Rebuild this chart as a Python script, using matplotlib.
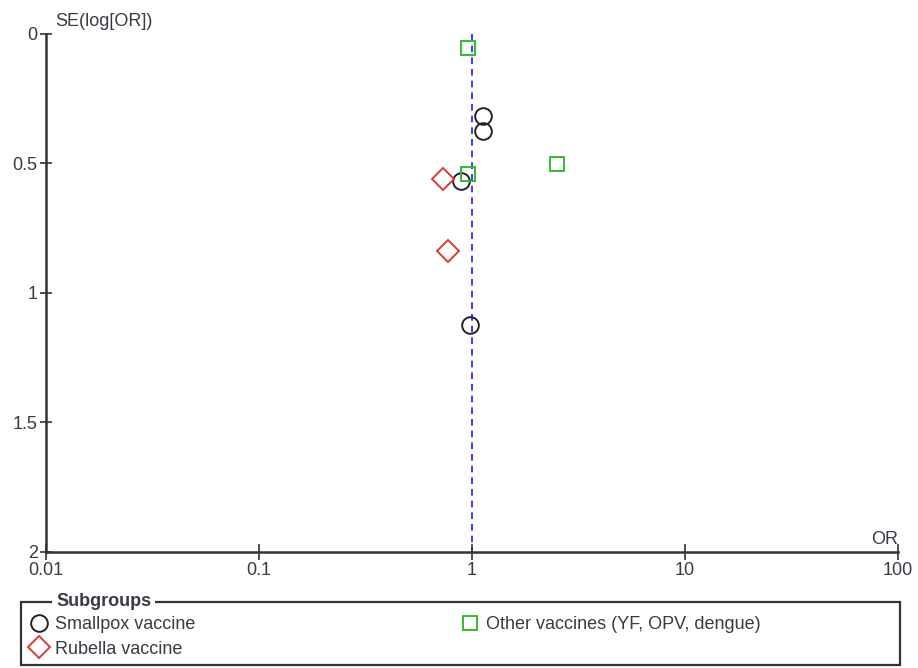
import matplotlib.pyplot as plt
from matplotlib.patches import Rectangle

plt.rcParams['font.family'] = ['Liberation Sans', 'DejaVu Sans']

# odds ratio / standard error per subgroup
smallpox_or = [1.13, 1.13, 0.89, 0.98]
smallpox_se = [0.317, 0.375, 0.568, 1.124]
rubella_or = [0.73, 0.77]
rubella_se = [0.56, 0.838]
other_or = [0.96, 2.52, 0.96]
other_se = [0.054, 0.502, 0.54]

x_ticks = [0.01, 0.1, 1, 10, 100]
x_labels = ['0.01', '0.1', '1', '10', '100']
y_ticks = [0, 0.5, 1, 1.5, 2]
y_labels = ['0', '0.5', '1', '1.5', '2']

txt = '#3a3a44'
fig = plt.figure(figsize=(9.18, 6.68), dpi=100)
ax = fig.add_axes([0.0501, 0.1737, 0.928, 0.776])

ax.plot([1, 1], [0, 2], color='#1a1aff', ls=(0, (4, 3)), lw=1.2, zorder=1)

ax.plot(smallpox_or, smallpox_se, 'o', mfc='none', mec='#222222', mew=1.4, ms=12, ls='none', label='Smallpox vaccine', zorder=3)
ax.plot(rubella_or, rubella_se, 'D', mfc='none', mec='#d93a3a', mew=1.4, ms=11, ls='none', label='Rubella vaccine', zorder=3)
ax.plot(other_or, other_se, 's', mfc='none', mec='#33bb33', mew=1.4, ms=10, ls='none', label='Other vaccines (YF, OPV, dengue)', zorder=3)

ax.set_xscale('log')
ax.set_xlim(0.01, 100)
ax.set_ylim(2, 0)
ax.set_xticks(x_ticks)
ax.set_xticklabels(x_labels)
ax.minorticks_off()
ax.set_yticks(y_ticks)
ax.set_yticklabels(y_labels)

for s in ['top', 'right']:
    ax.spines[s].set_visible(False)
for s in ['left', 'bottom']:
    ax.spines[s].set_color('#333333')
    ax.spines[s].set_linewidth(1.8)
ax.tick_params(axis='x', direction='inout', length=12, width=1.2, colors='#333333', labelcolor=txt, labelsize=13, pad=1)
ax.tick_params(axis='y', direction='inout', length=8, width=1.2, colors='#333333', labelcolor=txt, labelsize=13, pad=2)

ax.text(0.011, 1.007, 'SE(log[OR])', transform=ax.transAxes, fontsize=13, color=txt, ha='left', va='bottom')
ax.text(1.0, 0.008, 'OR', transform=ax.transAxes, fontsize=13, color=txt, ha='right', va='bottom')

# legend box with title cutting the frame
fig.add_artist(Rectangle((21 / 918, 3 / 668), 879 / 918, 63 / 668, transform=fig.transFigure,
                         fill=False, ec='#333333', lw=1.6))
fig.text(56 / 918, 1 - 601 / 668, 'Subgroups', fontsize=13, fontweight='bold', color=txt,
         ha='left', va='center', bbox=dict(fc='white', ec='none', pad=3))
leg = fig.legend(loc='upper left', bbox_to_anchor=(28 / 918, 1 - 616 / 668), ncol=2, frameon=False,
                 fontsize=13, handletextpad=0.3, handlelength=1.2, columnspacing=14.6, labelspacing=0.42,
                 borderaxespad=0, borderpad=0)
for t in leg.get_texts():
    t.set_color(txt)

fig.savefig('out.png', dpi=100)
